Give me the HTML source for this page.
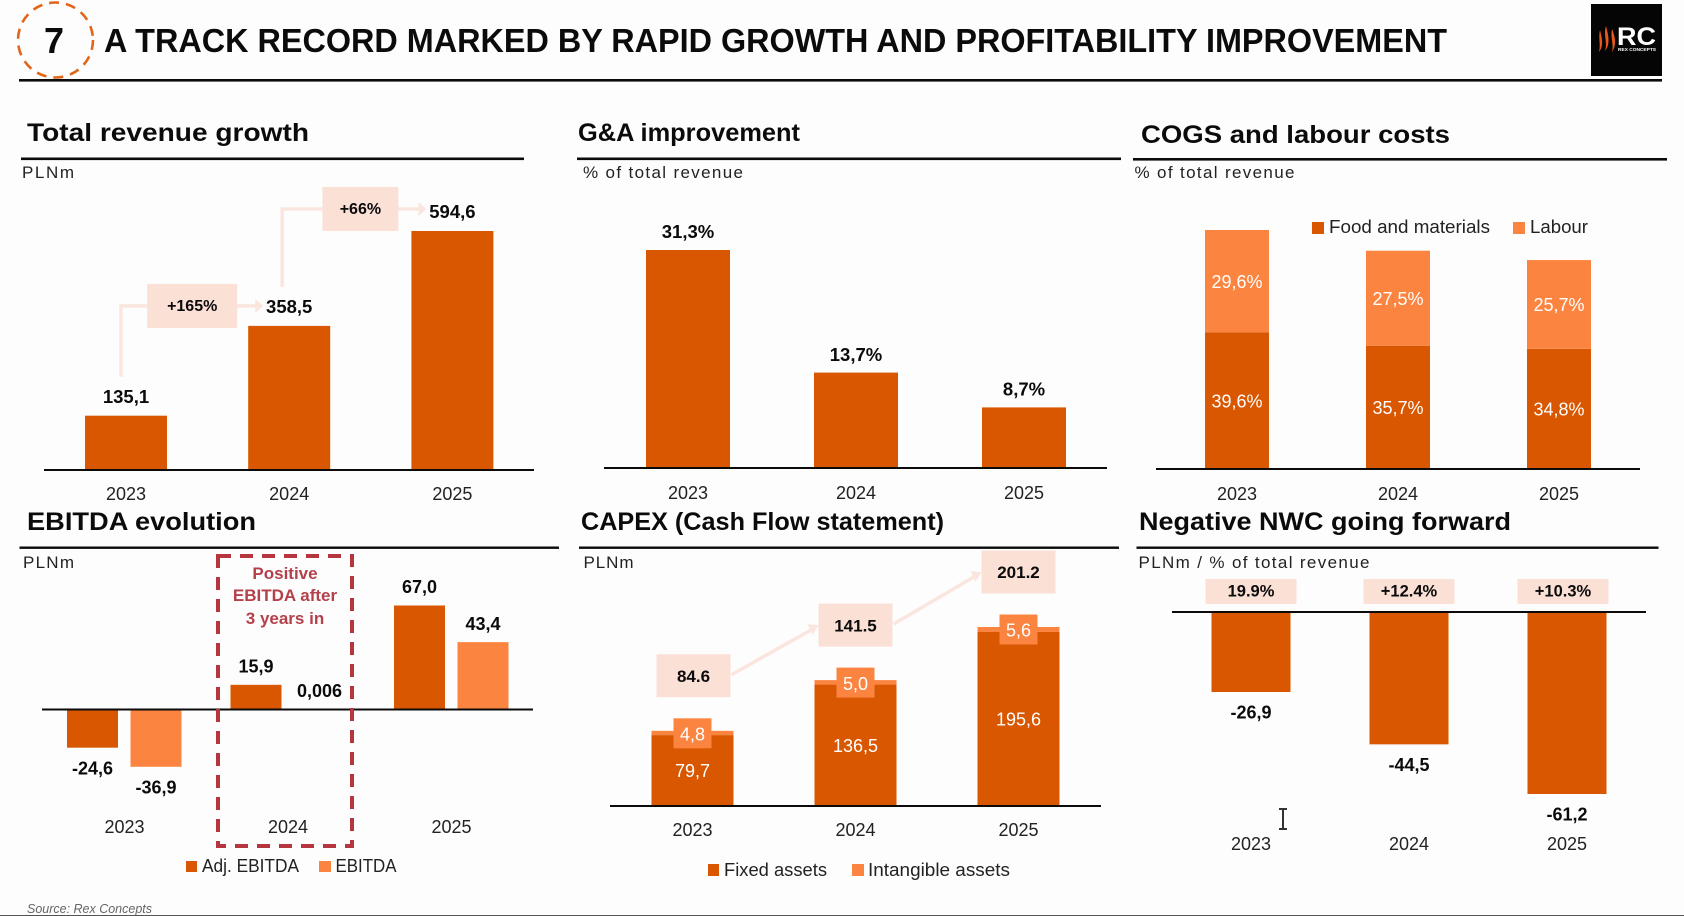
<!DOCTYPE html>
<html lang="en">
<head>
<meta charset="utf-8">
<title>A track record marked by rapid growth and profitability improvement</title>
<style>
html,body{margin:0;padding:0;background:#fdfdfd;width:1684px;height:916px;overflow:hidden}
svg{display:block;font-family:"Liberation Sans",Arial,sans-serif}
.h1{font-size:33.5px;font-weight:700;fill:#0b0b0b}
.h2{font-size:25px;font-weight:700;fill:#0b0b0b}
.sub{font-size:17px;fill:#222}
.leg{font-size:18px;fill:#222}
.note{font-size:17px;font-weight:700;fill:#b4404a}
</style>
</head>
<body>
<svg id="slide" xmlns="http://www.w3.org/2000/svg" width="1684" height="916" viewBox="0 0 1684 916">
  <rect x="0" y="0" width="1684" height="916" fill="#fdfdfd"/>

  <ellipse cx="55.5" cy="40" rx="37.5" ry="37.5" fill="none" stroke="#e0661a" stroke-width="2.6" stroke-dasharray="10 7"/>
  <text x="54" y="53" text-anchor="middle" font-size="36" font-weight="700" fill="#0b0b0b">7</text>
  <text class="h1" x="104" y="52" textLength="1343" lengthAdjust="spacingAndGlyphs">A TRACK RECORD MARKED BY RAPID GROWTH AND PROFITABILITY IMPROVEMENT</text>
  <rect x="19" y="79" width="1643" height="2.6" fill="#0b0b0b"/>

  <g>
    <rect x="1591" y="4" width="71" height="72" fill="#050505"/>
    <path d="M1600 30 C1598 38 1601 44 1599 52 C1604 46 1602 38 1600 30Z" fill="#e8581c"/>
    <path d="M1606 26 C1603 35 1608 43 1605 51 C1611 44 1608 34 1606 26Z" fill="#e8581c"/>
    <path d="M1612 29 C1610 37 1614 44 1612 52 C1617 45 1615 36 1612 29Z" fill="#e8581c"/>
    <text x="1617" y="45" font-size="25" font-weight="700" fill="#fff" textLength="39" lengthAdjust="spacingAndGlyphs">RC</text>
    <text x="1618" y="51" font-size="4.8" font-weight="700" fill="#fff" textLength="38" lengthAdjust="spacingAndGlyphs">REX CONCEPTS</text>
  </g>

  <text class="h2" x="27" y="141" textLength="282" lengthAdjust="spacingAndGlyphs">Total revenue growth</text>
  <rect x="21" y="157.5" width="503" height="2.6" fill="#0b0b0b"/>
  <text class="sub" x="22" y="178" textLength="52" lengthAdjust="spacing">PLNm</text>

  <text class="h2" x="578" y="141" textLength="222" lengthAdjust="spacingAndGlyphs">G&amp;A improvement</text>
  <rect x="577" y="157.5" width="544" height="2.6" fill="#0b0b0b"/>
  <text class="sub" x="583" y="178" textLength="160" lengthAdjust="spacing">% of total revenue</text>

  <text class="h2" x="1141" y="143" textLength="309" lengthAdjust="spacingAndGlyphs">COGS and labour costs</text>
  <rect x="1133" y="158" width="534" height="2.6" fill="#0b0b0b"/>
  <text class="sub" x="1134.5" y="178" textLength="160" lengthAdjust="spacing">% of total revenue</text>
  <g>
    <rect x="1312" y="222" width="12" height="12" fill="#d95700"/>
    <text class="leg" x="1329" y="233" textLength="161" lengthAdjust="spacingAndGlyphs">Food and materials</text>
    <rect x="1513" y="222" width="12" height="12" fill="#fb8540"/>
    <text class="leg" x="1530" y="233" textLength="58" lengthAdjust="spacingAndGlyphs">Labour</text>
  </g>

  <text class="h2" x="27" y="530" textLength="229" lengthAdjust="spacingAndGlyphs">EBITDA evolution</text>
  <rect x="19.5" y="546.5" width="539.5" height="2.4" fill="#0b0b0b"/>
  <text class="sub" x="23" y="568" textLength="51" lengthAdjust="spacing">PLNm</text>
  <g>
    <rect x="186" y="861" width="11" height="11" fill="#d95700"/>
    <text class="leg" x="202" y="872" textLength="97" lengthAdjust="spacingAndGlyphs">Adj. EBITDA</text>
    <rect x="319" y="861" width="12" height="11" fill="#fb8540"/>
    <text class="leg" x="335.5" y="872" textLength="61" lengthAdjust="spacingAndGlyphs">EBITDA</text>
  </g>

  <text class="h2" x="581" y="530" textLength="363" lengthAdjust="spacingAndGlyphs">CAPEX (Cash Flow statement)</text>
  <rect x="579" y="546.5" width="540" height="2.4" fill="#0b0b0b"/>
  <text class="sub" x="583.5" y="568" textLength="50" lengthAdjust="spacing">PLNm</text>
  <g>
    <rect x="708" y="864" width="11" height="12" fill="#d95700"/>
    <text class="leg" x="724" y="876" textLength="103" lengthAdjust="spacingAndGlyphs">Fixed assets</text>
    <rect x="852" y="864" width="12" height="12" fill="#fb8540"/>
    <text class="leg" x="868" y="876" textLength="142" lengthAdjust="spacingAndGlyphs">Intangible assets</text>
  </g>

  <text class="h2" x="1139" y="530" textLength="372" lengthAdjust="spacingAndGlyphs">Negative NWC going forward</text>
  <rect x="1136.5" y="546.5" width="522" height="2.4" fill="#0b0b0b"/>
  <text class="sub" x="1138.5" y="568" textLength="231" lengthAdjust="spacing">PLNm / % of total revenue</text>

  <g id="plots"></g>

  <rect x="218" y="556" width="134" height="290" fill="none" stroke="#b5363f" stroke-width="4" stroke-dasharray="13 9"/>
  <text class="note" x="285" y="579" text-anchor="middle">Positive</text>
  <text class="note" x="285" y="601" text-anchor="middle">EBITDA after</text>
  <text class="note" x="285" y="624" text-anchor="middle">3 years in</text>

  <path d="M1279 809 H1287 M1283 809 V829 M1279 829 H1287" fill="none" stroke="#333" stroke-width="2"/>

  <text x="27" y="913" font-size="13" font-style="italic" fill="#666" textLength="125" lengthAdjust="spacingAndGlyphs">Source: Rex Concepts</text>
  <rect x="0" y="915" width="1684" height="1" fill="#555"/>
</svg>

<script>
// ---------- chart data ----------
const years = ['2023', '2024', '2025'];

const revenueValues = [135.1, 358.5, 594.6];
const revenueGrowthLabels = ['+165%', '+66%'];

const gaValues = [31.3, 13.7, 8.7];

const cogsFood = [39.6, 35.7, 34.8];
const cogsLabour = [29.6, 27.5, 25.7];

const ebitdaAdjusted = [-24.6, 15.9, 67.0];
const ebitdaReported = [-36.9, 0.006, 43.4];

const capexFixed = [79.7, 136.5, 195.6];
const capexIntangible = [4.8, 5.0, 5.6];
const capexTotals = [84.6, 141.5, 201.2];

const nwcValues = [-26.9, -44.5, -61.2];
const nwcPctLabels = ['19.9%', '+12.4%', '+10.3%'];

// ---------- helpers ----------
const DARK = '#d95700', LIGHT = '#fb8540', PINK = '#fbe0d6', ARROW = '#fae6df', INK = '#0b0b0b';
const NS = 'http://www.w3.org/2000/svg';
const plots = document.getElementById('plots');

function linear(d0, d1, r0, r1) {
  return function (v) { return r0 + (v - d0) * (r1 - r0) / (d1 - d0); };
}
function shape(tag, attrs) {
  const el = document.createElementNS(NS, tag);
  for (const k in attrs) el.setAttribute(k, attrs[k]);
  plots.appendChild(el);
  return el;
}
function box(x0, y0, x1, y1, fill) {
  return shape('rect', { x: Math.min(x0, x1), y: Math.min(y0, y1), width: Math.abs(x1 - x0), height: Math.abs(y1 - y0), fill: fill });
}
function label(x, y, str, size, weight, fill) {
  const el = shape('text', { x: x, y: y + 0.7, 'text-anchor': 'middle', 'dominant-baseline': 'central', 'font-size': size, 'font-weight': weight, fill: fill });
  el.textContent = str;
  return el;
}
function comma(v) {
  const digits = Math.abs(v) < 0.1 ? 3 : 1;
  return v.toFixed(digits).replace('.', ',');
}
function bandCenter(x0, step) {
  return function (i) { return x0 + i * step; };
}

// ---------- revenue ----------
const revY = linear(0, 594.6, 470, 231);
const revX = bandCenter(126, 163.2);
years.forEach(function (year, i) {
  const b = box(revX(i) - 41, revY(revenueValues[i]), revX(i) + 41, revY(0), DARK);
  
  
  const v = label(revX(i), revY(revenueValues[i]) - 20, comma(revenueValues[i]), 18.5, 700, INK);
  
  
  const t = label(revX(i), 493.5, year, 18, 400, '#222');
  
  
});
revenueGrowthLabels.forEach(function (txt, i) {
  const sx = revX(i) + (i === 0 ? -5 : -7);
  const sy = revY(revenueValues[i]) - 39;
  const cy = revY(revenueValues[i + 1]) + (i === 0 ? -20 : -22);
  const bx0 = revX(i + 1) - (i === 0 ? 142 : 130);
  const bw = i === 0 ? 90 : 76;
  const headX = revX(i + 1) - 26;
  const line = shape('path', { d: 'M' + sx + ' ' + sy + ' V' + cy + ' H' + (headX - 6), fill: 'none', stroke: ARROW, 'stroke-width': 3.5 });
  
  
  const head = shape('path', { d: 'M' + (headX - 8) + ' ' + (cy - 7) + ' L' + headX + ' ' + cy + ' L' + (headX - 8) + ' ' + (cy + 7) + 'Z', fill: ARROW });
  
  
  const b = box(bx0, cy - 22, bx0 + bw, cy + 22, PINK);
  
  
  const l = label(bx0 + bw / 2, cy, txt, 16, 700, INK);
  
  
});
const revAxis = box(44, revY(0) - 1, 534, revY(0) + 1, INK);



// ---------- G&A ----------
const gaY = linear(0, 31.3, 468, 250);
const gaX = bandCenter(688, 168);
years.forEach(function (year, i) {
  const b = box(gaX(i) - 42, gaY(gaValues[i]), gaX(i) + 42, gaY(0), DARK);
  
  
  const v = label(gaX(i), gaY(gaValues[i]) - 19, comma(gaValues[i]) + '%', 18.5, 700, INK);
  
  
  const t = label(gaX(i), 492.5, year, 18, 400, '#222');
  
  
});
const gaAxis = box(604, gaY(0) - 1, 1107, gaY(0) + 1, INK);



// ---------- COGS ----------
const cogsY = linear(0, 69.2, 469, 230);
const cogsX = bandCenter(1237, 161);
years.forEach(function (year, i) {
  const food = cogsFood[i], lab = cogsLabour[i];
  const b1 = box(cogsX(i) - 32, cogsY(food), cogsX(i) + 32, cogsY(0), DARK);
  
  
  const b2 = box(cogsX(i) - 32, cogsY(food + lab), cogsX(i) + 32, cogsY(food), LIGHT);
  
  
  const v1 = label(cogsX(i), cogsY(food / 2), comma(food) + '%', 18, 400, '#fff');
  
  
  const v2 = label(cogsX(i), cogsY(food + lab / 2), comma(lab) + '%', 18, 400, '#fff');
  
  
  const t = label(cogsX(i), 493.5, year, 18, 400, '#222');
  
  
});
const cogsAxis = box(1156, cogsY(0) - 1, 1640, cogsY(0) + 1, INK);



// ---------- EBITDA ----------
const ebY = linear(0, 67, 709.5, 605.5);
const ebX = bandCenter(92.5, 163.5);
function ebLabelY(v) { return v < 0 ? ebY(v) + 20 : ebY(v) - 19; }
years.forEach(function (year, i) {
  const a = ebitdaAdjusted[i], r = ebitdaReported[i];
  const b1 = box(ebX(i) - 25.5, ebY(a), ebX(i) + 25.5, ebY(0), DARK);
  
  
  const b2 = box(ebX(i) + 38, ebY(r), ebX(i) + 89, ebY(0), LIGHT);
  
  
  const v1 = label(ebX(i), ebLabelY(a), comma(a), 18, 700, INK);
  
  
  const v2 = label(ebX(i) + 63.5, ebLabelY(r), comma(r), 18, 700, INK);
  
  
  const t = label(ebX(i) + 32, 826.5, year, 18, 400, '#222');
  
  
});
const ebAxis = box(42, ebY(0) - 1, 533, ebY(0) + 1, INK);



// ---------- CAPEX ----------
const capY = linear(0, 201.2, 806, 627);
const capX = bandCenter(692.5, 163);
const capBoxes = capexTotals.map(function (t, i) {
  return { x: capX(i) + (i === 0 ? 1 : 0), y: capY(t) - 55 };
});
capBoxes.forEach(function (p, i) {
  if (i === 0) return;
  const q = capBoxes[i - 1];
  const x0 = q.x + 38, y0 = q.y - 1, x1 = p.x - 37, y1 = p.y;
  const arrow = shape('line', { x1: x0, y1: y0, x2: x1 - 6, y2: y1 + 4, stroke: ARROW, 'stroke-width': 3.5 });
  
  
  const head = shape('path', { d: 'M' + x1 + ' ' + y1 + ' l-11 -1 l5 11 Z', fill: ARROW });
  
  
});
years.forEach(function (year, i) {
  const f = capexFixed[i], n = capexIntangible[i];
  const b1 = box(capX(i) - 41, capY(f), capX(i) + 41, capY(0), DARK);
  
  
  const b2 = box(capX(i) - 41, capY(f + n), capX(i) + 41, capY(f), LIGHT);
  
  
  const top = capY(f + n);
  const tag = box(capX(i) - 19, top - 12.5, capX(i) + 19, top + 17.5, LIGHT);
  
  
  const v2 = label(capX(i), top + 3, comma(n), 18, 400, '#fff');
  
  
  const v1 = label(capX(i), capY(f / 2), comma(f), 18, 400, '#fff');
  
  
  const p = capBoxes[i];
  const tb = box(p.x - 37, p.y - 21.5, p.x + 37, p.y + 21.5, PINK);
  
  
  const tv = label(p.x, p.y, capexTotals[i].toFixed(1), 17, 700, INK);
  
  
  const t = label(capX(i), 829.5, year, 18, 400, '#222');
  
  
});
const capAxis = box(610, capY(0) - 1, 1101, capY(0) + 1, INK);



// ---------- NWC ----------
const nwcY = linear(0, -61.2, 612, 794);
const nwcX = bandCenter(1251, 158);
const nwcPctOffset = [0, 0, -4];
years.forEach(function (year, i) {
  const b = box(nwcX(i) - 39.5, nwcY(0), nwcX(i) + 39.5, nwcY(nwcValues[i]), DARK);
  
  
  const v = label(nwcX(i), nwcY(nwcValues[i]) + 20, comma(nwcValues[i]), 18, 700, INK);
  
  
  const cx = nwcX(i) + nwcPctOffset[i];
  const pb = box(cx - 45.5, 579, cx + 45.5, 604, PINK);
  
  
  const pv = label(cx, 591, nwcPctLabels[i], 16.5, 700, INK);
  
  
  const t = label(nwcX(i), 843.5, year, 18, 400, '#222');
  
  
});
const nwcAxis = box(1172, nwcY(0) - 1, 1646, nwcY(0) + 1, INK);


</script>
</body>
</html>
